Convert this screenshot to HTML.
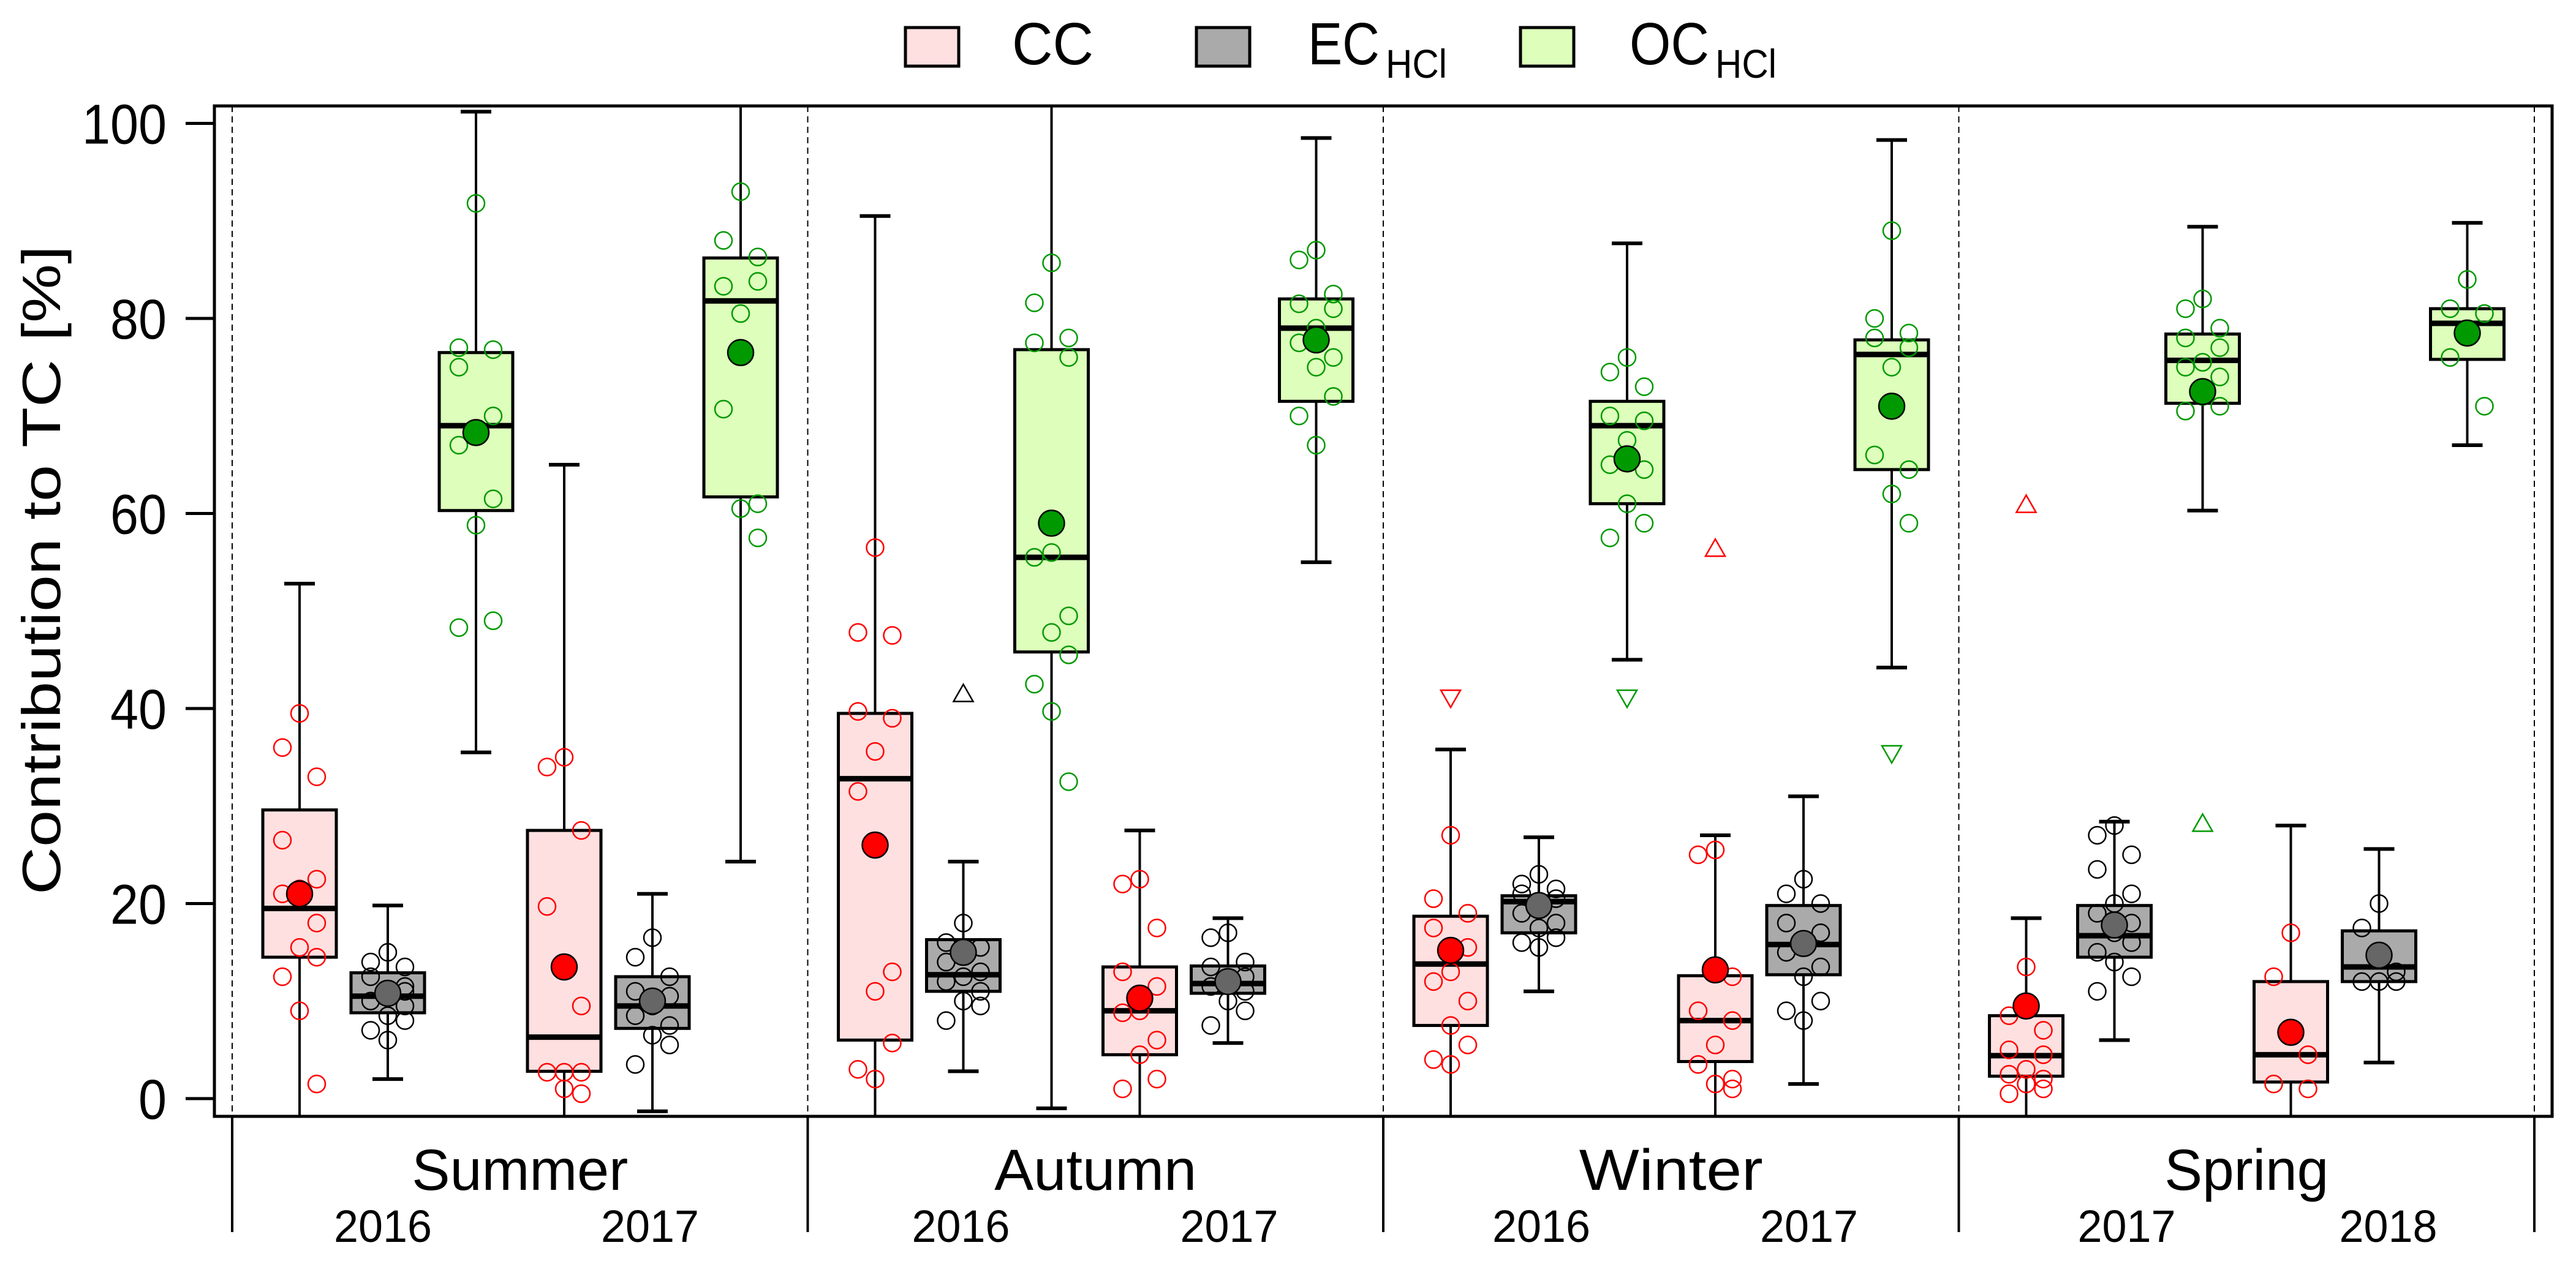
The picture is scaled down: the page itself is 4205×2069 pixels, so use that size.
<!DOCTYPE html>
<html><head><meta charset="utf-8"><style>
html,body{margin:0;padding:0;background:#fff;}
svg{display:block;font-family:"Liberation Sans",Arial,sans-serif;}
</style></head><body>
<svg id="chart" width="4205" height="2069" viewBox="0 0 4205 2069" xmlns="http://www.w3.org/2000/svg">
<defs><clipPath id="plotclip"><rect x="352" y="175" width="3812" height="1646"/></clipPath></defs>
<g id="legend">
  <g>
    <rect x="1478" y="45" width="87" height="63" fill="#ffe0e0" stroke="#000" stroke-width="5"/>
    <text x="1652" y="105" font-size="97" textLength="133" lengthAdjust="spacingAndGlyphs">CC</text>
  </g>
  <g>
    <rect x="1953" y="45" width="87" height="63" fill="#aaaaaa" stroke="#000" stroke-width="5"/>
    <text x="2135" y="105" font-size="97" textLength="117" lengthAdjust="spacingAndGlyphs">EC</text>
    <text x="2262" y="127" font-size="66" textLength="100" lengthAdjust="spacingAndGlyphs">HCl</text>
  </g>
  <g>
    <rect x="2482" y="45" width="87" height="63" fill="#ddffbb" stroke="#000" stroke-width="5"/>
    <text x="2660" y="105" font-size="97" textLength="130" lengthAdjust="spacingAndGlyphs">OC</text>
    <text x="2800" y="127" font-size="66" textLength="100" lengthAdjust="spacingAndGlyphs">HCl</text>
  </g>
</g>
<text transform="translate(98,931) rotate(-90)" text-anchor="middle" font-size="88" textLength="1060" lengthAdjust="spacingAndGlyphs">Contribution to TC [%]</text>
<g id="axes"></g>
<g id="marks" clip-path="url(#plotclip)"></g>
<g id="outliers"></g>
</svg>
<script>
// ---- data ----
const seasons = ["Summer","Autumn","Winter","Spring"];
const yearLabels = [["2016","2017"],["2016","2017"],["2016","2017"],["2017","2018"]];
const components = ["CC","EC","OC"];
const yTicks = [0,20,40,60,80,100];
// stats per box: [low whisker, q1, median, q3, high whisker, mean]
const summerStats = [
  [[-3,14.5,19.5,29.6,52.8,21],[2,8.8,10.5,12.9,19.8,10.8],[35.5,60.3,69,76.5,101.2,68.3]],
  [[-3,2.8,6.3,27.5,65,13.5],[-1.3,7.2,9.5,12.5,21,10],[24.3,61.7,81.8,86.2,104,76.5]]];
const autumnStats = [
  [[-3,6,32.8,39.5,90.5,26],[2.8,11,12.7,16.3,24.3,15],[-1,45.8,55.5,76.8,104,59]],
  [[-3,4.5,9,13.5,27.5,10.3],[5.7,10.8,11.8,13.6,18.5,12],[55,71.5,79,82,98.5,77.8]]];
const winterStats = [
  [[-3,7.5,13.8,18.7,35.8,15.2],[11,17,20.2,20.8,26.8,19.8],[45,61,69,71.5,87.7,65.6]],
  [[-3,3.8,8,12.6,27,13.2],[1.5,12.7,15.8,19.8,31,15.9],[44.2,64.5,76.3,77.8,98.3,71]]];
const springStats = [
  [[-3,2.3,4.4,8.5,18.5,9.5],[6,14.5,16.7,19.8,28.4,17.8],[60.3,71.3,75.7,78.4,89.4,72.5]],
  [[-3,1.7,4.5,12,28,6.8],[3.7,12,13.5,17.2,25.6,14.7],[67,75.8,79.5,81,89.8,78.5]]];
const summerPoints = [
  [[39.5,36,33,26.5,22.5,21.5,21,18,15.5,14.5,12.5,9,1.5],[15,14,13.5,12.5,11.5,10.5,10,9.5,8.5,8,7,6,11],[91.8,77,76.8,75,70,68.5,67,61.5,58.8,49,48.3]],
  [[35,34,27.5,19.7,9.5,2.7,2.7,2.7,1,0.5],[16.5,14.5,12.5,11,10.5,9.5,8.5,7.5,6.5,5.5,3.5],[93,88,86.3,83.3,83.8,80.5,70.7,61,60.5,57.5]]];
const autumnPoints = [
  [[56.5,47.8,47.5,39.7,39,35.6,31.5,13,11,5.7,3,2],[18,16,15.5,14,13,12.5,12,11,10,9.5,8],[85.7,81.6,78,77.5,76,56,55.5,49.5,47.8,45.5,42.5,39.7,32.5]],
  [[22.5,22,17.5,13,11.5,9,8.8,6,4.5,2,1],[17,16.5,14,13.5,12.5,12,11.5,11,10,9,7.5],[87,86,82.5,81.5,81,79,77.5,76,75,72,70,67]]];
const winterPoints = [
  [[27,20.5,19,17.5,15.5,13,12,10,7.5,5.5,4,3.5],[23,22,21.5,21,20.5,20,19,18,17.5,16.5,16,15.5],[76,74.5,73,70,69.5,67.5,65,64.5,61,59,57.5]],
  [[25.5,25,12.5,9,8,5.5,3.5,2,1.5,1],[22.5,21,20,18,17,16,15,13.5,12.5,10,9,8],[89,80,78.5,78,77,75,66,64.5,62,59]]];
const springPoints = [
  [[13.5,8.5,7,5,4.5,3,2.5,2,1.5,1,0.5],[28,27,25,23.5,21,20,19,18,17,16,15,14,12.5,11],[82,81,79,78,77,75.5,75,74,72,71,70.5]],
  [[17,12.5,4.5,1.5,1],[20,17.5,13,12,12,12],[84,81,80.5,76,71]]];
// outliers: [seasonIdx, yearIdx, compIdx, value, direction]
const outlierValues = [
  [1,0,1,41.6,"up"],[2,0,0,41,"down"],[2,0,2,41,"down"],[2,1,0,56.5,"up"],[2,1,2,35.3,"down"],[3,0,0,61,"up"],[3,0,2,28.3,"up"]];

const allStats=[summerStats,autumnStats,winterStats,springStats];
const allPoints=[summerPoints,autumnPoints,winterPoints,springPoints];

// ---- scales ----
const NS='http://www.w3.org/2000/svg';
const X0=350,X1=4166,Y0=173,YB=1823;
const secStart=379, secW=939.5;
function y(v){return 1794-(v)*15.925;}
function xBox(s,yr,c){return secStart+s*secW+110+yr*432+c*144;}
const fills=["#ffe0e0","#aaaaaa","#ddffbb"];
const ptCol=["#ff0000","#000000","#009900"];
const meanCol=["#ff0000","#666666","#009900"];
function mk(tag,attrs,parent){const e=document.createElementNS(NS,tag);for(const k in attrs)e.setAttribute(k,attrs[k]);parent.appendChild(e);return e;}

const axes=document.getElementById('axes');
const marks=document.getElementById('marks');
const outG=document.getElementById('outliers');

for(let i=0;i<=4;i++){
  const sx=secStart+i*secW;
  const d=mk('line',{x1:sx,y1:Y0,x2:sx,y2:YB,stroke:'#000','stroke-width':2,'stroke-dasharray':'10 7'},axes);
  
  
  const l=mk('line',{x1:sx,y1:YB,x2:sx,y2:2012,stroke:'#000','stroke-width':4},axes);
  
  
}
const fr=mk('rect',{x:X0,y:Y0,width:X1-X0,height:YB-Y0,fill:'none',stroke:'#000','stroke-width':5},axes);


yTicks.forEach(t=>{
  const tk=mk('line',{x1:303,x2:350,y1:y(t),y2:y(t),stroke:'#000','stroke-width':5},axes);
  
  
  const s=String(t);
  const tl=mk('text',{x:272,y:y(t)+33,'text-anchor':'end','font-size':92,textLength:s.length*46,lengthAdjust:'spacingAndGlyphs'},axes);
  tl.textContent=s;
  
  
});
const yearOff=[[246,682],[250,688],[258,695],[274,701]];
const seasonW=[353,330,300,268];
seasons.forEach((s,i)=>{
  const cx=secStart+i*secW+secW/2;
  const t=mk('text',{x:cx,y:1943,'text-anchor':'middle','font-size':95,textLength:seasonW[i],lengthAdjust:'spacingAndGlyphs'},axes);
  t.textContent=s;
  
  
  yearLabels[i].forEach((yl,j)=>{
    const t2=mk('text',{x:secStart+i*secW+yearOff[i][j],y:2028,'text-anchor':'middle','font-size':74,textLength:160,lengthAdjust:'spacingAndGlyphs'},axes);
    t2.textContent=yl;
    
    
  });
});
const jit=[0,-1,1,-1,1,0,-1,1,0,1,-1,0,1,-1,0];
for(let s=0;s<4;s++)for(let yr=0;yr<2;yr++)for(let c=0;c<3;c++){
  const st=allStats[s][yr][c];
  const cx=xBox(s,yr,c);
  const g=mk('g',{},marks);
  
  
  mk('line',{x1:cx,x2:cx,y1:y(st[4]),y2:y(st[0]),stroke:'#000','stroke-width':4},g);
  mk('line',{x1:cx-25,x2:cx+25,y1:y(st[4]),y2:y(st[4]),stroke:'#000','stroke-width':6},g);
  mk('line',{x1:cx-25,x2:cx+25,y1:y(st[0]),y2:y(st[0]),stroke:'#000','stroke-width':6},g);
  mk('rect',{x:cx-60,y:y(st[3]),width:120,height:y(st[1])-y(st[3]),fill:fills[c],stroke:'#000','stroke-width':5},g);
  mk('line',{x1:cx-58,x2:cx+58,y1:y(st[2]),y2:y(st[2]),stroke:'#000','stroke-width':9},g);
  const pts=allPoints[s][yr][c];
  pts.forEach((v,k)=>{
    const p=mk('circle',{cx:cx+jit[k%jit.length]*28,cy:y(v),r:14,fill:'none',stroke:ptCol[c],'stroke-width':2.5},g);
    
    
  });
  const m=mk('circle',{cx:cx,cy:y(st[5]),r:21,fill:meanCol[c],stroke:'#000','stroke-width':2.5},g);
  
  
}
outlierValues.forEach(o=>{
  const cx=xBox(o[0],o[1],o[2]);const cy=y(o[3]);const h=14;
  const pts=o[4]==='up'?`${cx-16},${cy+h} ${cx+16},${cy+h} ${cx},${cy-h}`:`${cx-16},${cy-h} ${cx+16},${cy-h} ${cx},${cy+h}`;
  const t=mk('polygon',{points:pts,fill:'none',stroke:ptCol[o[2]],'stroke-width':2.5},outG);
  
  
});
</script>
</body></html>
